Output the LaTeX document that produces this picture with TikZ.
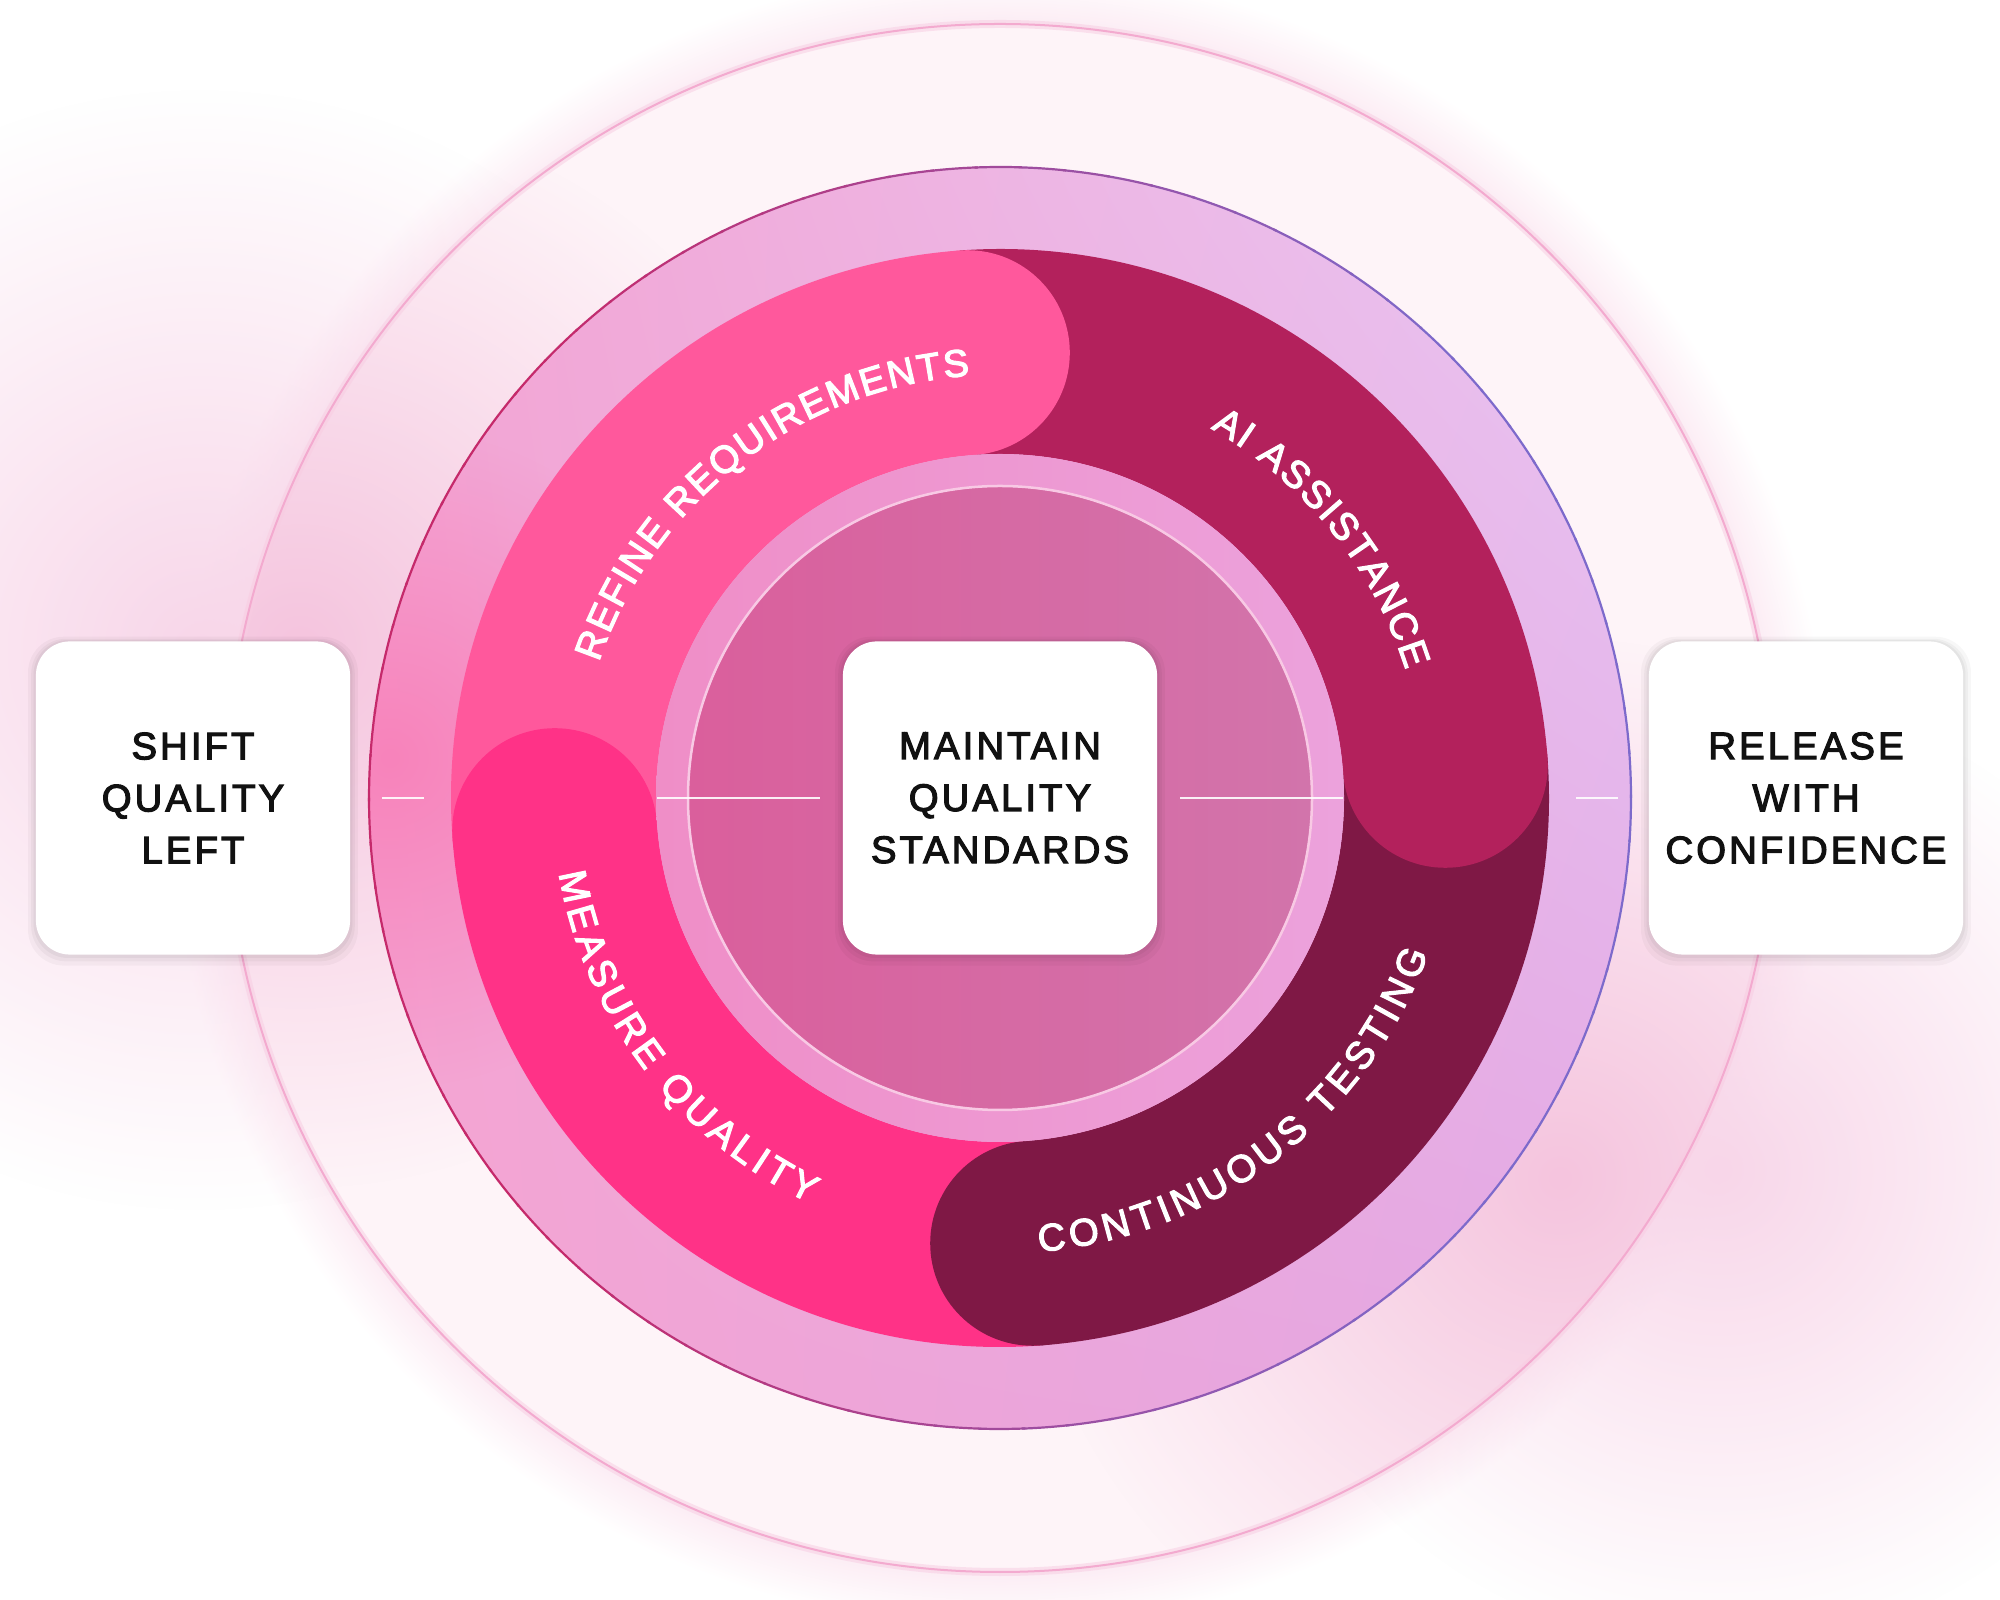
\documentclass[tikz,border=0pt]{standalone}
\usepackage{fontspec}
\setmainfont{Liberation Sans}
\newfontfamily\lblfont{Liberation Sans}[FakeBold=3, LetterSpace=8]
\newfontfamily\arcfont{Liberation Sans}[FakeBold=3]
\newcommand\arclbl{\arcfont\fontsize{10.9}{13}\selectfont}
\usetikzlibrary{decorations.text, shadows, shadings, fadings}

\definecolor{glowout}{HTML}{F8D6E9}
\definecolor{halopink}{HTML}{FCECF4}
\definecolor{glowin}{HTML}{F5C4DE}
\definecolor{toplight}{HTML}{FEF4F8}
\definecolor{outerline}{HTML}{F3AACF}
\definecolor{ringUL}{HTML}{F3A4D3}
\definecolor{ringLL}{HTML}{F5A4D1}
\definecolor{ringUR}{HTML}{E8C6F3}
\definecolor{ringLR}{HTML}{E2A6E3}
\definecolor{ringblob}{HTML}{F883BB}
\definecolor{bordercrim}{HTML}{C52A6B}
\definecolor{borderpurp}{HTML}{7D6ACB}
\definecolor{segrefine}{HTML}{FF589C}
\definecolor{segai}{HTML}{B3215C}
\definecolor{segcont}{HTML}{7F1845}
\definecolor{segmeasure}{HTML}{FF3287}
\definecolor{innerringL}{HTML}{EF8EC7}
\definecolor{innerringR}{HTML}{ECA2DC}
\definecolor{innerL}{HTML}{DA5F9C}
\definecolor{innerR}{HTML}{D274AB}
\definecolor{innerline}{HTML}{F8C9E4}
\definecolor{ink}{HTML}{111111}

\tikzfading[name=softblob, inner color=transparent!0, outer color=transparent!100]
\pgfdeclareradialshading{halo}{\pgfpointorigin}{color(0bp)=(halopink); color(23.3bp)=(halopink); color(25bp)=(white); color(50bp)=(white)}

\begin{document}
\begin{tikzpicture}[x=0.01cm, y=0.01cm,
  box/.style={fill=white, rounded corners=0.34cm, minimum width=3.14cm, minimum height=3.13cm,
    inner sep=0pt, align=center, font=\lblfont\fontsize{10.9}{14.8}\selectfont, text=ink,
    general shadow={fill=black, opacity=0.03, shadow scale=1.05, shadow yshift=-0.03cm},
    general shadow={fill=black, opacity=0.035, shadow scale=1.03, shadow yshift=-0.02cm},
    general shadow={fill=black, opacity=0.04, shadow scale=1.015, shadow yshift=-0.01cm}},
  tick/.style={draw=white, line width=0.022cm, opacity=0.9},
  blob/.style={path fading=softblob},
  arclabel/.style={decorate, decoration={text along path, text align={fit to path}, text color=white}}
]
\fill[white] (0,0) rectangle (2000,1600);
\useasboundingbox (0,0) rectangle (2000,1600);
% outside halo and glows
\shade[shading=halo] (1000,802) circle[radius=830];
\fill[glowout, blob] (200,950) circle[radius=560];
\fill[glowout, blob] (1720,430) circle[radius=480];

\begin{scope}[shift={(1000,802)}]
  % outer faint disk
  \fill[toplight] (0,0) circle[radius=774];
  \begin{scope}
    \clip (0,0) circle[radius=774];
    \fill[glowin, blob] (-700,150) circle[radius=540];
    \fill[glowin, blob] (560,-380) circle[radius=540];
  \end{scope}
  \draw[outerline!60!white, line width=0.08cm, opacity=0.5] (0,0) circle[radius=774];
  \draw[outerline, line width=0.02cm] (0,0) circle[radius=774];
  % second disk
  \shade[upper left=ringUL, upper right=ringUR, lower left=ringLL, lower right=ringLR] (0,0) circle[radius=631];
  \begin{scope}
    \clip (0,0) circle[radius=631];
    \fill[ringblob, blob] (-610,40) circle[radius=330];
  \end{scope}
  \foreach \a in {0,4,...,356} {
    \pgfmathsetmacro\p{max(0,min(100,50+70*cos(\a+2)))}
    \draw[draw=borderpurp!\p!bordercrim, line width=0.022cm] (\a:631) arc[start angle=\a, end angle=\a+4.3, radius=631];
  }
  % segment bodies
  \fill[segrefine] (184.2:549) arc[start angle=184.2, end angle=94.2, radius=549] -- (94.2:344) arc[start angle=94.2, end angle=184.2, radius=344] -- cycle;
  \fill[segai] (94.2:549) arc[start angle=94.2, end angle=4.2, radius=549] -- (4.2:344) arc[start angle=4.2, end angle=94.2, radius=344] -- cycle;
  \fill[segcont] (4.2:549) arc[start angle=4.2, end angle=-85.8, radius=549] -- (-85.8:344) arc[start angle=-85.8, end angle=4.2, radius=344] -- cycle;
  \fill[segmeasure] (-85.8:549) arc[start angle=-85.8, end angle=-175.8, radius=549] -- (-175.8:344) arc[start angle=-175.8, end angle=-85.8, radius=344] -- cycle;
  % rounded ends
  \fill[segrefine] (94.2:446.5) circle[radius=102.5];
  \fill[segai] (4.2:446.5) circle[radius=102.5];
  \fill[segcont] (-85.8:446.5) circle[radius=102.5];
  \fill[segmeasure] (184.2:446.5) circle[radius=102.5];
  % inner disk
  \shade[left color=innerringL, right color=innerringR] (0,0) circle[radius=344];
  \shade[left color=innerL, right color=innerR] (0,0) circle[radius=311];
  \draw[innerline, line width=0.025cm] (0,0) circle[radius=312];
  % curved labels
  \path[arclabel, decoration={text={|\arclbl|REFINE REQUIREMENTS}}] (161.3:423.5) arc[start angle=161.3, end angle=94.1, radius=423.5];
  \path[arclabel, decoration={text={|\arclbl|AI ASSISTANCE}}] (60.3:425.5) arc[start angle=60.3, end angle=17.5, radius=425.5];
  \path[arclabel, decoration={text={|\arclbl|CONTINUOUS TESTING}}] (-85.05:455.5) arc[start angle=-85.05, end angle=-20, radius=455.5];
  \path[arclabel, decoration={text={|\arclbl|MEASURE QUALITY}}] (189.7:447.5) arc[start angle=189.7, end angle=244.85, radius=447.5];
  % ticks
  \coordinate (tl1) at (-618,0); \coordinate (tl2) at (-576,0);
  \coordinate (il1) at (-343,0); \coordinate (il2) at (-180,0);
  \coordinate (ir1) at (180,0);  \coordinate (ir2) at (343,0);
  \coordinate (tr1) at (576,0);  \coordinate (tr2) at (618,0);
  \draw[tick] (tl1) -- (tl2);
  \draw[tick] (il1) -- (il2);
  \draw[tick] (ir1) -- (ir2);
  \draw[tick] (tr1) -- (tr2);
\end{scope}

\node[box] (shift) at (193,802) {SHIFT\\QUALITY\\LEFT};
\node[box] (maintain) at (1000,802) {MAINTAIN\\QUALITY\\STANDARDS};
\node[box] (release) at (1806,802) {RELEASE\\WITH\\CONFIDENCE};
\end{tikzpicture}
\end{document}
